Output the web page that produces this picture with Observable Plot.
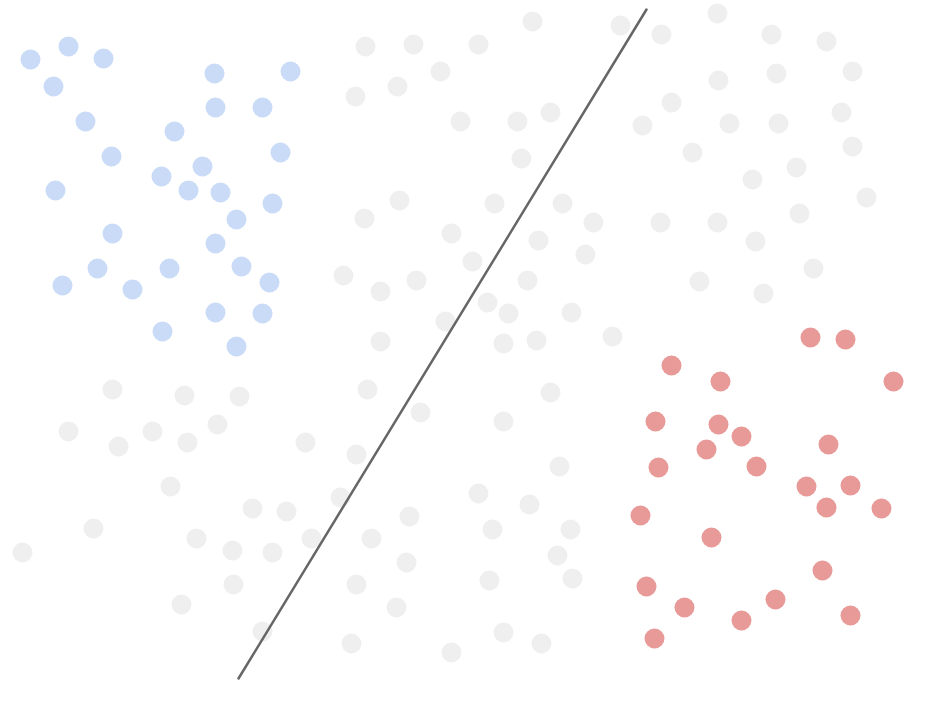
<!DOCTYPE html>
<html>
<head>
<meta charset="utf-8">
<script src="https://cdn.jsdelivr.net/npm/d3@7"></script>
<script src="https://cdn.jsdelivr.net/npm/@observablehq/plot@0.6"></script>
<style>
  html, body { margin: 0; padding: 0; background: #fff; }
  #chart svg { display: block; }
</style>
</head>
<body>
<div id="chart"></div>
<script>
// Blue cluster (x, y in picture units)
const blueX = [30,68,103,53,85,111,55,112,97,62,132,169,162,214,290,215,262,174,280,202,161,188,220,272,236,215,241,269,215,262,236];
const blueY = [59,46,58,86,121,156,190,233,268,285,289,268,331,73,71,107,107,131,152,166,176,190,192,203,219,243,266,282,312,313,346];

// Red cluster
const redX = [810,845,893,671,720,655,718,741,706,828,658,756,806,850,826,881,640,711,822,646,684,775,741,850,654];
const redY = [337,339,381,365,381,421,424,436,449,444,467,466,486,485,507,508,515,537,570,586,607,599,620,615,638];

// Gray background points
const grayX = [365,413,478,532,620,661,717,771,826,440,355,397,718,776,852,671,460,517,550,642,729,778,841,521,692,852,752,796,364,399,494,562,593,660,717,799,866,451,538,755,472,585,343,380,416,527,699,763,813,487,508,571,445,503,536,612,380,
  112,184,239,68,118,152,187,217,305,367,420,550,503,356,559,170,252,286,340,478,529,93,22,196,232,272,311,371,409,492,570,557,406,233,356,489,572,181,396,262,351,451,503,541];
const grayY = [46,44,44,21,25,34,13,34,41,71,96,86,80,73,71,102,121,121,112,125,123,123,112,158,152,146,179,167,218,200,203,203,222,222,222,213,197,233,240,241,261,254,275,291,280,280,281,293,268,302,313,312,321,343,340,336,341,
  389,395,396,431,446,431,442,424,442,389,412,392,421,454,466,486,508,511,497,493,504,528,552,538,550,552,538,538,516,529,529,555,562,584,584,580,578,604,607,631,643,652,632,643];

// Separating line endpoints
const lineX = [238, 646];
const lineY = [678, 9];

const toPts = (xs, ys) => xs.map((x, i) => ({x, y: ys[i]}));
const blue = toPts(blueX, blueY);
const red = toPts(redX, redY);
const gray = toPts(grayX, grayY);
const line = toPts(lineX, lineY);

const W = 927, H = 706;
const chart = Plot.plot({
  width: W,
  height: H,
  margin: 0,
  x: {domain: [0, W], range: [0, W], axis: null},
  y: {domain: [0, H], range: [0, H], axis: null},
  style: {background: "#fff"},
  marks: [
    Plot.dot(gray, {x: "x", y: "y", r: 10, fill: "#efefef", stroke: null}),
    Plot.dot(blue, {x: "x", y: "y", r: 10, fill: "#c9dbf7", stroke: null}),
    Plot.dot(red, {x: "x", y: "y", r: 10, fill: "#e89a98", stroke: null}),
    Plot.line(line, {x: "x", y: "y", stroke: "#666666", strokeWidth: 2.5})
  ]
});
document.getElementById("chart").appendChild(chart);
</script>
</body>
</html>
